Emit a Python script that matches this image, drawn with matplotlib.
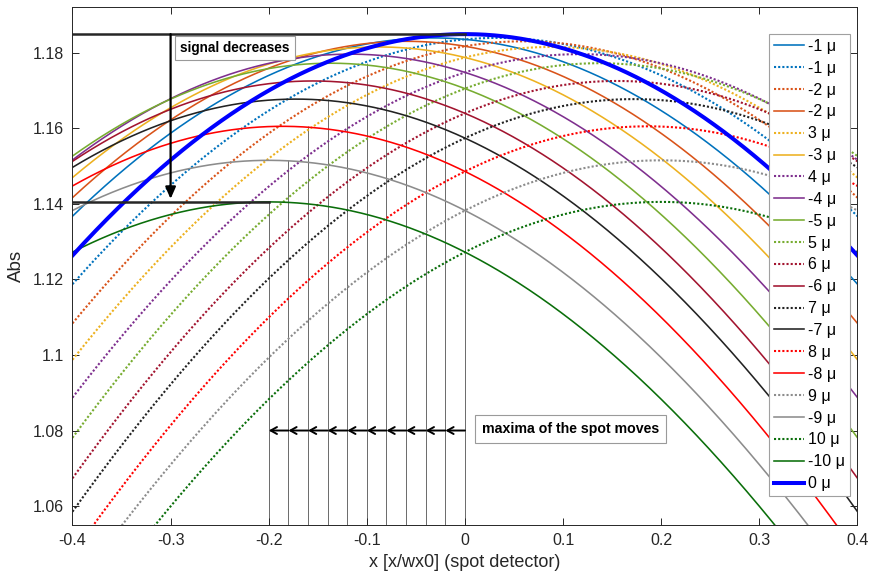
import numpy as np
import matplotlib
matplotlib.use("Agg")
import matplotlib.pyplot as plt

plt.rcParams['font.family'] = ['Liberation Sans', 'DejaVu Sans']

# defocus steps (microns); curve for -n peaks left of 0, +n mirrored to the right
steps = [1, 2, 3, 4, 5, 6, 7, 8, 9, 10]
peak_shift = [0.033, 0.060, 0.088, 0.117, 0.137, 0.155, 0.172, 0.186, 0.200, 0.200]
peak_abs = [1.1839, 1.1830, 1.1815, 1.1796, 1.1772, 1.1725, 1.1677, 1.1605, 1.1515, 1.1405]
curv = [0.302, 0.308, 0.305, 0.300, 0.305, 0.305, 0.300, 0.299, 0.290, 0.293]
colors = ['#0072BD', '#D95319', '#EDB120', '#7E2F8E', '#77AC30',
          '#A2142F', '#222222', '#FF0000', '#8C8C8C', '#0A6E0A']

# focused spot
focus_abs = 1.1849
focus_curv = 0.317

# legend sequence: (step, sign of shift, label)
order = [(1, -1, '-1 μ'), (1, 1, '-1 μ'), (2, 1, '-2 μ'), (2, -1, '-2 μ'),
         (3, 1, '3 μ'), (3, -1, '-3 μ'), (4, 1, '4 μ'), (4, -1, '-4 μ'),
         (5, -1, '-5 μ'), (5, 1, '5 μ'), (6, 1, '6 μ'), (6, -1, '-6 μ'),
         (7, 1, '7 μ'), (7, -1, '-7 μ'), (8, 1, '8 μ'), (8, -1, '-8 μ'),
         (9, 1, '9 μ'), (9, -1, '-9 μ'), (10, 1, '10 μ'), (10, -1, '-10 μ')]

# positions of the spot maximum marked on the axis
marker_x = [-0.02 * s for s in steps]

x = np.linspace(-0.4, 0.4, 801)


def profile(x0, h, k):
    return h * np.exp(-k * (x - x0) ** 2)


fig = plt.figure(figsize=(8.71, 5.78), dpi=100)
ax = fig.add_axes([0.0832, 0.0917, 0.9013, 0.8957])

for s, sign, lab in order:
    i = steps.index(s)
    y = profile(sign * peak_shift[i], peak_abs[i], curv[i])
    if sign > 0:
        ax.plot(x, y, color=colors[i], lw=1.5, ls=(0, (1, 1)), label=lab)
    else:
        ax.plot(x, y, color=colors[i], lw=1.15, ls='-', label=lab)

ax.plot(x, profile(0.0, focus_abs, focus_curv), color='#0000FF', lw=2.9, label='0 μ')

ax.set_xlim(-0.4, 0.4)
ax.set_ylim(1.055, 1.192)

# vertical markers where the maximum sits
ax.vlines([0.0] + marker_x, 1.055, [focus_abs] + peak_abs, colors='#6a6a6a', lw=0.7, zorder=1.5)

# reference levels for the signal drop
ax.plot([-0.4, 0.0], [focus_abs, focus_abs], color='#262626', lw=1.8, zorder=5)
ax.plot([-0.4, marker_x[-1]], [peak_abs[-1], peak_abs[-1]], color='#262626', lw=1.8, zorder=5)
ax.annotate('', xy=(-0.3, 1.1413), xytext=(-0.3, focus_abs),
            arrowprops=dict(arrowstyle='-|>,head_length=0.5,head_width=0.22', lw=1.6,
                            color='black', mutation_scale=14, shrinkA=0, shrinkB=0), zorder=6)
ax.text(-0.2345, 1.1813, 'signal decreases', fontsize=9.8, fontweight='bold',
        ha='center', va='center', zorder=7,
        bbox=dict(boxstyle='square,pad=0.38', fc='white', ec='#9a9a9a', lw=0.8))

# arrows showing the maximum moving left
starts = [0.0] + marker_x[:-1]
for xs, xe in zip(starts, marker_x):
    ax.annotate('', xy=(xe, 1.08), xytext=(xs, 1.08),
                arrowprops=dict(arrowstyle='->,head_length=0.45,head_width=0.25', lw=1.4,
                                color='black', mutation_scale=10, shrinkA=0, shrinkB=0),
                zorder=6)
ax.text(0.1074, 1.0803, 'maxima of the spot moves', fontsize=10.2, fontweight='bold',
        ha='center', va='center', zorder=7,
        bbox=dict(boxstyle='square,pad=0.5', fc='white', ec='#9a9a9a', lw=0.8))

ax.set_xticks([-0.4, -0.3, -0.2, -0.1, 0, 0.1, 0.2, 0.3, 0.4])
ax.set_xticklabels(['-0.4', '-0.3', '-0.2', '-0.1', '0', '0.1', '0.2', '0.3', '0.4'])
ax.set_yticks([1.06, 1.08, 1.1, 1.12, 1.14, 1.16, 1.18])
ax.set_yticklabels(['1.06', '1.08', '1.1', '1.12', '1.14', '1.16', '1.18'])
ax.tick_params(direction='in', length=5, width=0.7, labelsize=11.5, colors='#262626',
               top=True, right=True, pad=6)
for sp in ax.spines.values():
    sp.set_color('#262626')
    sp.set_linewidth(0.7)
ax.set_xlabel('x [x/wx0] (spot detector)', fontsize=13, color='#262626', labelpad=4)
ax.set_ylabel('Abs', fontsize=13.5, color='#262626', labelpad=6)

leg = ax.legend(loc='upper right', bbox_to_anchor=(0.9904, 0.9484), fontsize=11.5,
                handlelength=1.9, handletextpad=0.25, labelspacing=0.43,
                borderpad=0.3, borderaxespad=0, fancybox=False, framealpha=1,
                edgecolor='#a0a0a0')
leg.get_frame().set_linewidth(0.8)
leg.set_zorder(10)

fig.savefig('out.png', dpi=100)
